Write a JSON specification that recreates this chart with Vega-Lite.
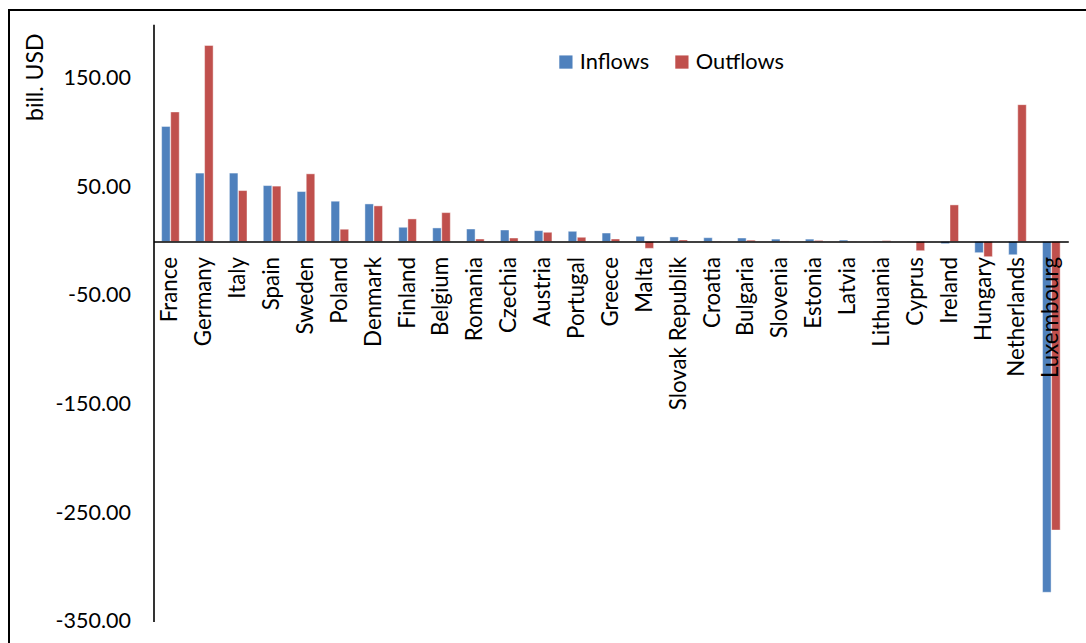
{
  "$schema": "https://vega.github.io/schema/vega-lite/v6.json",
  "width": 1080,
  "height": 650,
  "autosize": {"type": "none"},
  "padding": {"left": 9, "top": 10, "right": 0, "bottom": 0},
  "background": "#ffffff",
  "config": {
    "view": {"stroke": "#000000", "strokeWidth": 2},
    "font": "Lato",
    "locale": {
      "number": {"decimal": ".", "thousands": ",", "grouping": [3], "currency": ["$", ""], "minus": "-"}
    },
    "axis": {"labelColor": "#000000", "titleColor": "#000000", "grid": false}
  },
  "data": {
    "values": [
      {"country": "France", "flow": "Inflows", "value": 106.0},
      {"country": "France", "flow": "Outflows", "value": 119.3},
      {"country": "Germany", "flow": "Inflows", "value": 63.0},
      {"country": "Germany", "flow": "Outflows", "value": 180.5},
      {"country": "Italy", "flow": "Inflows", "value": 63.0},
      {"country": "Italy", "flow": "Outflows", "value": 46.9},
      {"country": "Spain", "flow": "Inflows", "value": 51.5},
      {"country": "Spain", "flow": "Outflows", "value": 51.0},
      {"country": "Sweden", "flow": "Inflows", "value": 46.0},
      {"country": "Sweden", "flow": "Outflows", "value": 62.3},
      {"country": "Poland", "flow": "Inflows", "value": 37.1},
      {"country": "Poland", "flow": "Outflows", "value": 11.3},
      {"country": "Denmark", "flow": "Inflows", "value": 34.6},
      {"country": "Denmark", "flow": "Outflows", "value": 32.8},
      {"country": "Finland", "flow": "Inflows", "value": 13.1},
      {"country": "Finland", "flow": "Outflows", "value": 20.8},
      {"country": "Belgium", "flow": "Inflows", "value": 12.5},
      {"country": "Belgium", "flow": "Outflows", "value": 26.6},
      {"country": "Romania", "flow": "Inflows", "value": 11.5},
      {"country": "Romania", "flow": "Outflows", "value": 2.3},
      {"country": "Czechia", "flow": "Inflows", "value": 10.6},
      {"country": "Czechia", "flow": "Outflows", "value": 3.2},
      {"country": "Austria", "flow": "Inflows", "value": 10.0},
      {"country": "Austria", "flow": "Outflows", "value": 8.5},
      {"country": "Portugal", "flow": "Inflows", "value": 9.4},
      {"country": "Portugal", "flow": "Outflows", "value": 3.9},
      {"country": "Greece", "flow": "Inflows", "value": 7.8},
      {"country": "Greece", "flow": "Outflows", "value": 2.3},
      {"country": "Malta", "flow": "Inflows", "value": 4.8},
      {"country": "Malta", "flow": "Outflows", "value": -6.3},
      {"country": "Slovak Republik", "flow": "Inflows", "value": 4.2},
      {"country": "Slovak Republik", "flow": "Outflows", "value": 1.4},
      {"country": "Croatia", "flow": "Inflows", "value": 3.5},
      {"country": "Croatia", "flow": "Outflows", "value": 0.3},
      {"country": "Bulgaria", "flow": "Inflows", "value": 3.2},
      {"country": "Bulgaria", "flow": "Outflows", "value": 1.2},
      {"country": "Slovenia", "flow": "Inflows", "value": 2.2},
      {"country": "Slovenia", "flow": "Outflows", "value": 0.5},
      {"country": "Estonia", "flow": "Inflows", "value": 2.2},
      {"country": "Estonia", "flow": "Outflows", "value": 1.0},
      {"country": "Latvia", "flow": "Inflows", "value": 1.3},
      {"country": "Latvia", "flow": "Outflows", "value": 0.2},
      {"country": "Lithuania", "flow": "Inflows", "value": 0.4},
      {"country": "Lithuania", "flow": "Outflows", "value": 0.8},
      {"country": "Cyprus", "flow": "Inflows", "value": 0.2},
      {"country": "Cyprus", "flow": "Outflows", "value": -8.5},
      {"country": "Ireland", "flow": "Inflows", "value": -2.0},
      {"country": "Ireland", "flow": "Outflows", "value": 33.7},
      {"country": "Hungary", "flow": "Inflows", "value": -10.3},
      {"country": "Hungary", "flow": "Outflows", "value": -14.0},
      {"country": "Netherlands", "flow": "Inflows", "value": -12.2},
      {"country": "Netherlands", "flow": "Outflows", "value": 126.0},
      {"country": "Luxembourg", "flow": "Inflows", "value": -323.0},
      {"country": "Luxembourg", "flow": "Outflows", "value": -265.7}
    ]
  },
  "mark": {"type": "bar", "stroke": "#ffffff", "strokeWidth": 0.8, "strokeOpacity": 0.55},
  "encoding": {
    "x": {
      "field": "country",
      "type": "nominal",
      "sort": null,
      "scale": {"range": [144.5, 1059.3], "paddingInner": 0.48, "paddingOuter": 0.24},
      "axis": {
        "orient": "bottom",
        "offset": -418.5,
        "title": null,
        "ticks": false,
        "domainColor": "#000000",
        "domainWidth": 1.6,
        "labelAngle": -90,
        "labelFontSize": 22.3,
        "labelPadding": 15,
        "labelOverlap": false,
        "labelBound": false,
        "zindex": 1
      }
    },
    "xOffset": {
      "field": "flow",
      "type": "nominal",
      "scale": {"paddingInner": 0.06}
    },
    "y": {
      "field": "value",
      "type": "quantitative",
      "scale": {"domain": [-350, 200], "range": [611.6, 14.3], "nice": false, "zero": false},
      "axis": {
        "orient": "left",
        "offset": -144.5,
        "values": [-350, -250, -150, -50, 50, 150],
        "format": ".2f",
        "ticks": false,
        "domainColor": "#000000",
        "domainWidth": 1.6,
        "labelFontSize": 21.5,
        "labelPadding": 23,
        "title": "bill. USD",
        "titleFontSize": 23,
        "titleFontWeight": "normal",
        "titleAngle": -90,
        "titleAlign": "right",
        "titleBaseline": "alphabetic",
        "titleX": -111,
        "titleY": 23,
        "zindex": 1
      }
    },
    "color": {
      "field": "flow",
      "type": "nominal",
      "scale": {"domain": ["Inflows", "Outflows"], "range": ["#4F81BD", "#C0504D"]},
      "legend": {
        "title": null,
        "orient": "none",
        "direction": "horizontal",
        "legendX": 546,
        "legendY": 41,
        "padding": 0,
        "symbolType": "square",
        "symbolSize": 175,
        "symbolStrokeWidth": 0,
        "symbolOpacity": 1,
        "labelFontSize": 21.8,
        "labelColor": "#000000",
        "labelOffset": 3,
        "columnPadding": 21
      }
    }
  }
}
